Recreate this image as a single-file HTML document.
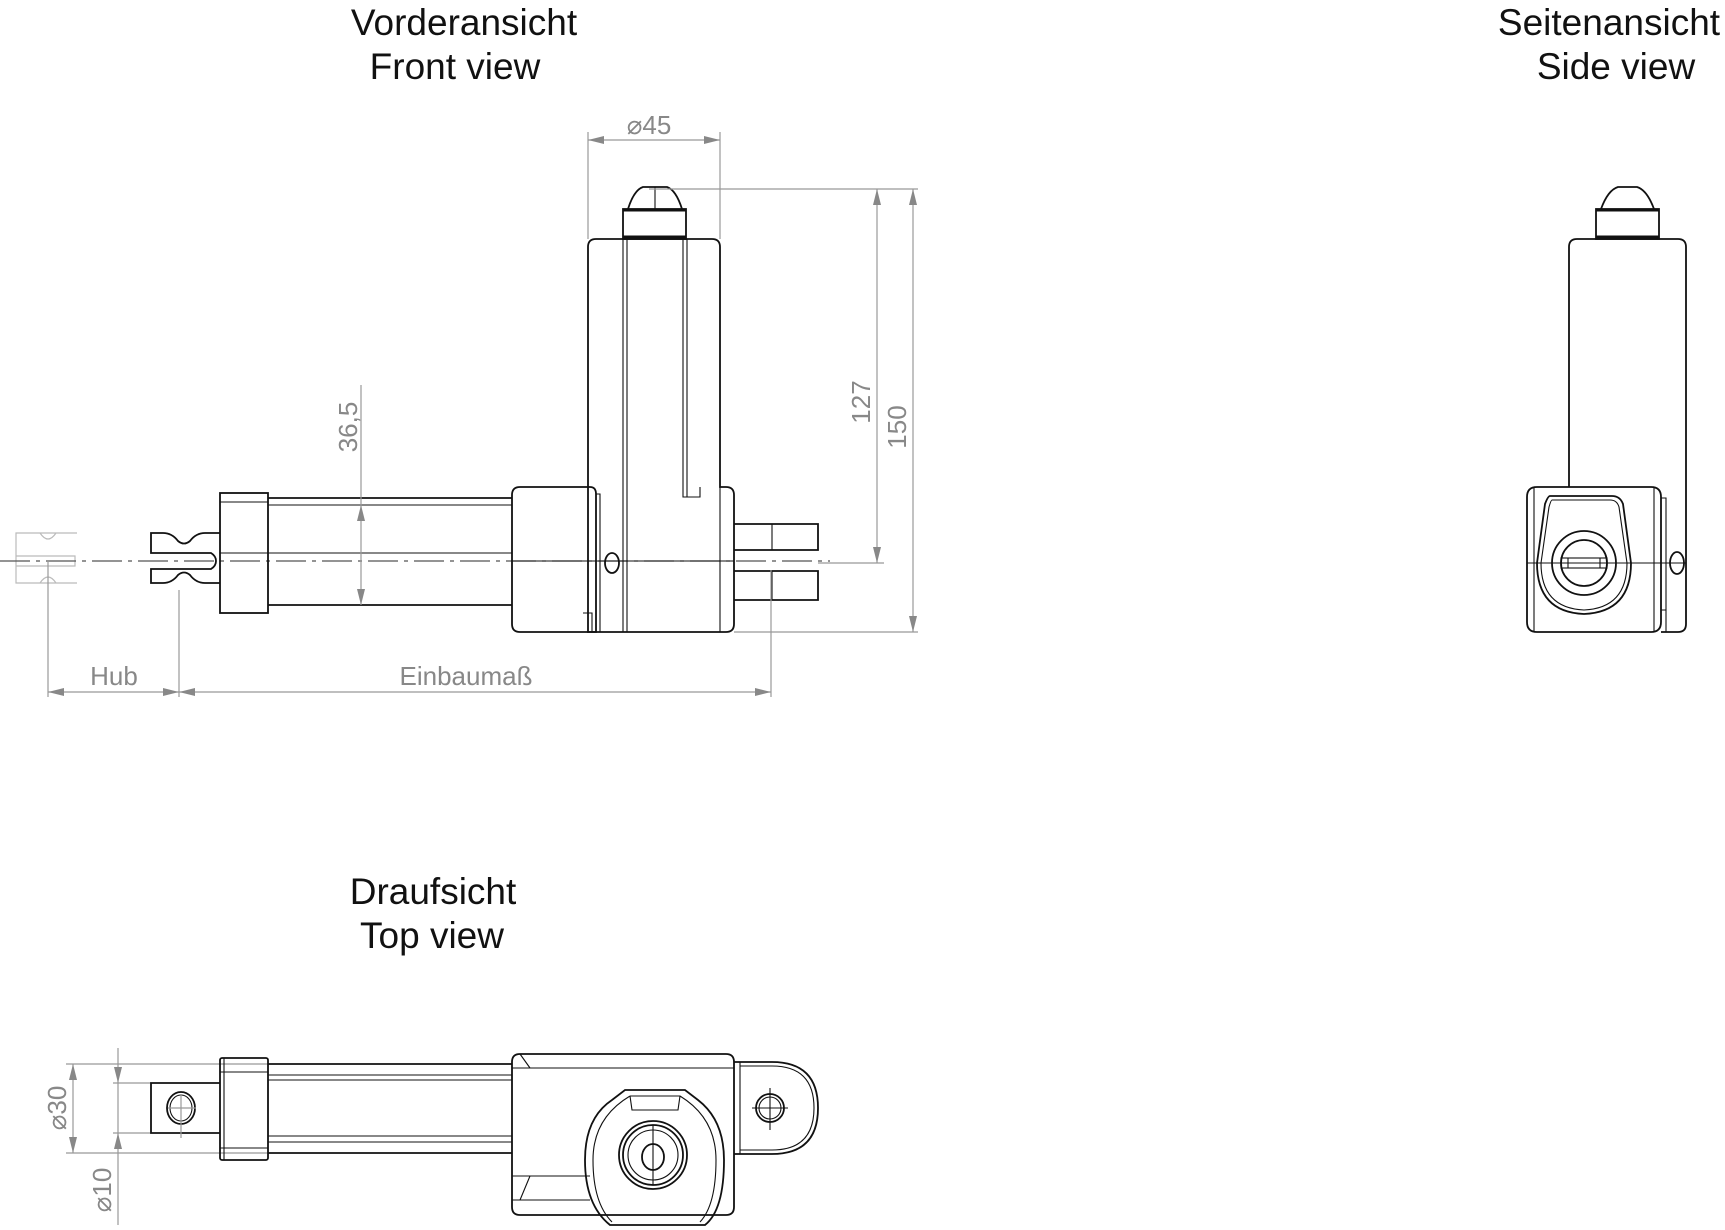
<!DOCTYPE html>
<html><head><meta charset="utf-8"><style>
html,body{margin:0;padding:0;background:#fff}
svg{display:block}
.t{font-family:"Liberation Sans",sans-serif;font-size:37px;fill:#111;text-anchor:middle}
.d{font-family:"Liberation Sans",sans-serif;font-size:26px;fill:#888;text-anchor:middle}
.k{fill:none;stroke:#111;stroke-width:1.8}
.k2{fill:none;stroke:#111;stroke-width:1.1}
.g{fill:none;stroke:#999;stroke-width:1.2}
.gh{fill:none;stroke:#bbb;stroke-width:1.2}
.cl{fill:none;stroke:#555;stroke-width:1.2;stroke-dasharray:30 6 4 6}
.ar{fill:#888}
</style></head><body>
<svg width="1725" height="1230" viewBox="0 0 1725 1230" xmlns="http://www.w3.org/2000/svg">
<!-- Titles -->
<text class="t" x="464" y="35">Vorderansicht</text>
<text class="t" x="455" y="79">Front view</text>
<text class="t" x="1609" y="35">Seitenansicht</text>
<text class="t" x="1616" y="79">Side view</text>
<text class="t" x="433" y="904">Draufsicht</text>
<text class="t" x="432" y="948">Top view</text>

<!-- ===== FRONT VIEW ===== -->
<path class="gh" d="M77,533 L16,533 L16,583 L77,583 M16,556 L75,556 L75,566 L16,566 M40,533 Q48,545 56,533 M40,583 Q48,571 56,583"/>
<line class="cl" x1="0" y1="561" x2="830" y2="561"/>
<path class="k" d="M220,533 L205,533 Q196,533 190,541 Q184,546 178,541 Q172,533 163,533 L151,533 L151,553 L211,553 Q216,556 216,561 Q216,566 211,569 L151,569 L151,583 L163,583 Q172,583 178,575 Q184,570 190,575 Q196,583 205,583 L220,583"/>
<rect class="k" x="220" y="493" width="48" height="120"/>
<line class="k2" x1="220" y1="502" x2="268" y2="502"/>
<line class="k2" x1="220" y1="553" x2="268" y2="553"/>
<path class="k" d="M268,498 L512,498 M268,605 L512,605"/>
<line class="k2" x1="268" y1="505" x2="512" y2="505"/>
<line class="k2" x1="268" y1="553" x2="512" y2="553"/>
<path class="k" d="M520,487 L590,487 Q596,487 596,494 L596,632 L520,632 Q512,632 512,624 L512,495 Q512,487 520,487 Z"/>
<path class="k2" d="M596,494 L600,494 L600,632 M583,613 L592,613 L592,632 M512,561 L600,561"/>
<path class="k" d="M588,632 L588,247 Q588,239 596,239 L712,239 Q720,239 720,247 L720,487 L726,487 Q734,487 734,495 L734,624 Q734,632 726,632 Z"/>
<path class="k2" d="M623,239 L623,632 M627,239 L627,632 M683,239 L683,497 L700,497 L700,487 M687,239 L687,497 M720,487 L720,632 M600,561 L734,561"/>
<ellipse class="k" cx="612" cy="563" rx="7" ry="10"/>
<rect class="k" x="623" y="209" width="63" height="30"/>
<line x1="623" y1="210" x2="686" y2="210" stroke="#111" stroke-width="3"/>
<line x1="623" y1="237" x2="686" y2="237" stroke="#111" stroke-width="3"/>
<path class="k" d="M628,209 Q634,190 643,187 L667,187 Q676,190 682,209"/>
<line class="k2" x1="655" y1="187" x2="655" y2="209"/>
<path class="k" d="M734,524 L818,524 L818,550 L734,550 M734,571 L818,571 L818,600 L734,600"/>
<line class="k2" x1="772" y1="524" x2="772" y2="550"/>
<line class="k2" x1="772" y1="571" x2="772" y2="600"/>
<path class="g" d="M588,132 L588,239 M720,132 L720,239 M588,140 L720,140"/>
<polygon class="ar" points="588,140 604,136 604,144"/><polygon class="ar" points="720,140 704,136 704,144"/>
<text class="d" x="649" y="134">⌀45</text>
<path class="g" d="M649,189 L918,189 M734,632 L918,632 M818,563 L884,563 M877,189 L877,563 M913,189 L913,632"/>
<polygon class="ar" points="877,189 873,205 881,205"/><polygon class="ar" points="877,563 873,547 881,547"/>
<polygon class="ar" points="913,189 909,205 917,205"/><polygon class="ar" points="913,632 909,616 917,616"/>
<text class="d" transform="translate(870,402) rotate(-90)">127</text>
<text class="d" transform="translate(906,427) rotate(-90)">150</text>
<path class="g" d="M361,385 L361,605"/>
<polygon class="ar" points="361,505 357,521 365,521"/><polygon class="ar" points="361,605 357,589 365,589"/>
<text class="d" transform="translate(357,427) rotate(-90)">36,5</text>
<path class="g" d="M48,560 L48,697 M179,590 L179,697 M771,570 L771,697 M48,692 L771,692"/>
<polygon class="ar" points="48,692 64,688 64,696"/><polygon class="ar" points="179,692 163,688 163,696"/>
<polygon class="ar" points="179,692 195,688 195,696"/><polygon class="ar" points="771,692 755,688 755,696"/>
<text class="d" x="114" y="685">Hub</text>
<text class="d" x="466" y="685">Einbaumaß</text>

<!-- ===== SIDE VIEW ===== -->
<path class="k" d="M1569,487 L1569,247 Q1569,239 1577,239 L1678,239 Q1686,239 1686,247 L1686,624 Q1686,632 1678,632 L1661,632"/>
<rect class="k" x="1596" y="209" width="63" height="30"/>
<line x1="1596" y1="210" x2="1659" y2="210" stroke="#111" stroke-width="3"/>
<line x1="1596" y1="237" x2="1659" y2="237" stroke="#111" stroke-width="3"/>
<path class="k" d="M1601,209 Q1608,190 1618,187 L1637,187 Q1647,190 1654,209"/>
<path class="k" d="M1537,487 L1651,487 Q1661,487 1661,497 L1661,622 Q1661,632 1651,632 L1537,632 Q1527,632 1527,622 L1527,497 Q1527,487 1537,487 Z"/>
<path class="k2" d="M1534,487 L1534,632 M1654,487 L1654,632 M1661,498 L1666,498 L1666,632 M1527,563 L1686,563 M1661,610 L1666,610"/>
<path class="k" d="M1550,496 L1612,496 Q1620,496 1623,504 L1631,563 Q1631,612 1584,614 Q1537,612 1537,563 L1545,504 Q1548,496 1550,496 Z"/>
<path class="k2" d="M1552,500 L1610,500 Q1617,500 1619,507 L1627,563 Q1627,608 1584,610 Q1541,608 1541,563 L1549,507 Q1551,500 1552,500 Z"/>
<circle class="k" cx="1584" cy="563" r="32"/>
<circle class="k" cx="1584" cy="563" r="23"/>
<rect class="k2" x="1561" y="558" width="46" height="10"/>
<line class="k2" x1="1568" y1="558" x2="1568" y2="568"/><line class="k2" x1="1600" y1="558" x2="1600" y2="568"/>
<ellipse class="k" cx="1677" cy="563" rx="7" ry="11"/>

<!-- ===== TOP VIEW ===== -->
<path class="g" d="M66,1064 L268,1064 M66,1153 L268,1153 M73,1064 L73,1153 M113,1083 L151,1083 M113,1133 L151,1133 M118,1048 L118,1225"/>
<polygon class="ar" points="73,1064 69,1080 77,1080"/><polygon class="ar" points="73,1153 69,1137 77,1137"/>
<polygon class="ar" points="118,1083 114,1067 122,1067"/><polygon class="ar" points="118,1133 114,1149 122,1149"/>
<text class="d" transform="translate(66,1108) rotate(-90)">⌀30</text>
<text class="d" transform="translate(111,1190) rotate(-90)">⌀10</text>
<path class="k" d="M220,1083 L151,1083 L151,1133 L220,1133"/>
<ellipse class="k" cx="181" cy="1108" rx="14" ry="16"/>
<ellipse class="k2" cx="181" cy="1108" rx="11" ry="13"/>
<path class="g" d="M168,1108 L196,1108 M181,1094 L181,1138"/>
<rect class="k" x="220" y="1058" width="48" height="102" rx="2"/>
<path class="k2" d="M224,1058 L224,1160 M220,1072 L268,1072 M220,1148 L268,1148"/>
<path class="k" d="M268,1064 L512,1064 M268,1153 L512,1153"/>
<path class="k2" d="M268,1075 L512,1075 M268,1080 L512,1080 M268,1136 L512,1136 M268,1142 L512,1142"/>
<path class="k" d="M520,1054 L726,1054 Q734,1054 734,1062 L734,1207 Q734,1215 726,1215 L520,1215 Q512,1215 512,1207 L512,1062 Q512,1054 520,1054 Z"/>
<path class="k2" d="M512,1068 L530,1068 L734,1068 M530,1068 L520,1054 M512,1200 L590,1200 M512,1176 L590,1176 M530,1176 L520,1200"/>
<path class="k" d="M734,1062 L772,1062 Q818,1062 818,1108 Q818,1154 772,1154 L734,1154"/>
<path class="k2" d="M740,1062 L740,1154 M740,1066 L772,1066 Q814,1066 814,1108 Q814,1150 772,1150 L740,1150"/>
<circle class="k" cx="770" cy="1108" r="14"/>
<circle class="k2" cx="770" cy="1108" r="11"/>
<path class="k2" d="M752,1108 L788,1108 M770,1088 L770,1130"/>
<path class="k" d="M625,1090 L685,1090 L698,1100 Q724,1120 724,1160 Q724,1210 705,1225 L610,1225 Q585,1205 585,1160 Q585,1118 612,1100 Z"/>
<path class="k2" d="M630,1096 L680,1096 Q716,1118 716,1160 Q716,1205 700,1222 M630,1096 Q593,1118 593,1160 Q593,1203 612,1222 M630,1096 L632,1110 L678,1110 L680,1096"/>
<circle class="k" cx="653" cy="1155" r="34"/>
<circle class="k" cx="653" cy="1155" r="30"/>
<circle class="k2" cx="653" cy="1155" r="25"/>
<ellipse class="k" cx="653" cy="1157" rx="11" ry="13"/>
<path class="k2" d="M653,1125 L653,1185"/>
</svg>
</body></html>
